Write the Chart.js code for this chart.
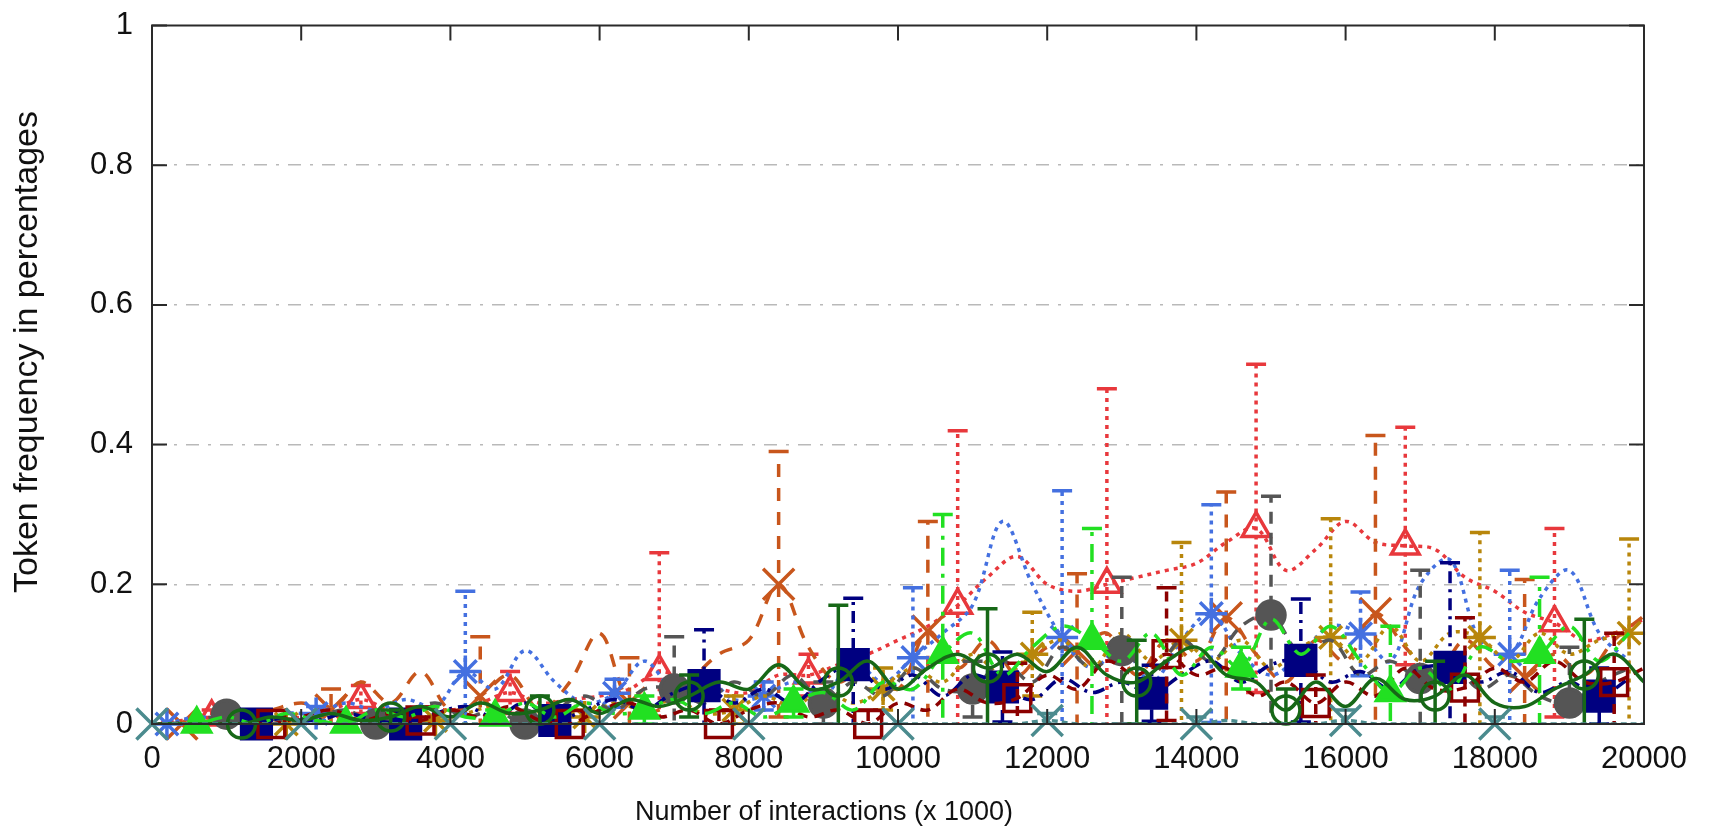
<!DOCTYPE html>
<html>
<head>
<meta charset="utf-8">
<script src="https://cdn.jsdelivr.net/npm/chart.js@4.4.1/dist/chart.umd.min.js"></script>
<style>
  html, body { margin: 0; padding: 0; background: #fff; }
  #caixa { width: 1710px; height: 840px; position: relative; }
</style>
</head>
<body>
<div id="caixa"><canvas id="graficoTokens"></canvas></div>
<script>
// eixo x: duas grades de amostragem (passo 400), uma começa em 0 e outra em 200
const gradeA = [0, 400, 800, 1200, 1600, 2000, 2400, 2800, 3200, 3600, 4000, 4400, 4800, 5200, 5600, 6000, 6400, 6800, 7200, 7600, 8000, 8400, 8800, 9200, 9600, 10000, 10400, 10800, 11200, 11600, 12000, 12400, 12800, 13200, 13600, 14000, 14400, 14800, 15200, 15600, 16000, 16400, 16800, 17200, 17600, 18000, 18400, 18800, 19200, 19600, 20000];
const gradeB = [200, 600, 1000, 1400, 1800, 2200, 2600, 3000, 3400, 3800, 4200, 4600, 5000, 5400, 5800, 6200, 6600, 7000, 7400, 7800, 8200, 8600, 9000, 9400, 9800, 10200, 10600, 11000, 11400, 11800, 12200, 12600, 13000, 13400, 13800, 14200, 14600, 15000, 15400, 15800, 16200, 16600, 17000, 17400, 17800, 18200, 18600, 19000, 19400, 19800];

const ticksX = [0, 2000, 4000, 6000, 8000, 10000, 12000, 14000, 16000, 18000, 20000];
const ticksY = [0, 0.2, 0.4, 0.6, 0.8, 1];

// frequências de cada token (gradeA ou gradeB)
const vermelho = [0, 0.005, 0.01, 0.01, 0.005, 0.01, 0.02, 0.035, 0.02, 0.025, 0.02, 0.03, 0.045, 0.03, 0.035, 0.04, 0.05, 0.075, 0.06, 0.05, 0.045, 0.07, 0.07, 0.085, 0.1, 0.12, 0.14, 0.17, 0.21, 0.24, 0.2, 0.19, 0.2, 0.21, 0.22, 0.23, 0.26, 0.28, 0.22, 0.25, 0.29, 0.26, 0.255, 0.25, 0.21, 0.19, 0.16, 0.145, 0.12, 0.13, 0.15];
const laranja = [0, 0, 0.005, 0.01, 0.02, 0.03, 0.02, 0.06, 0.03, 0.075, 0.02, 0.04, 0.07, 0.02, 0.06, 0.13, 0.03, 0.02, 0.06, 0.1, 0.12, 0.2, 0.11, 0.06, 0.09, 0.05, 0.133, 0.08, 0.12, 0.07, 0.11, 0.105, 0.13, 0.07, 0.12, 0.09, 0.152, 0.1, 0.06, 0.12, 0.09, 0.158, 0.11, 0.07, 0.12, 0.08, 0.067, 0.1, 0.07, 0.12, 0.155];
const azul = [0, 0.01, 0.005, 0, 0.015, 0.015, 0.03, 0.02, 0.035, 0.025, 0.075, 0.05, 0.105, 0.06, 0.03, 0.044, 0.09, 0.05, 0.07, 0.035, 0.04, 0.06, 0.04, 0.09, 0.06, 0.095, 0.13, 0.17, 0.29, 0.2, 0.124, 0.08, 0.11, 0.06, 0.12, 0.158, 0.1, 0.07, 0.1, 0.14, 0.129, 0.09, 0.2, 0.235, 0.12, 0.1, 0.18, 0.22, 0.13, 0.09];
const ouro = [0, 0, 0, 0, 0, 0.01, 0.005, 0.015, 0.005, 0.005, 0.015, 0.025, 0.01, 0.025, 0.01, 0.03, 0.02, 0.035, 0.015, 0.02, 0.04, 0.025, 0.05, 0.03, 0.05, 0.08, 0.06, 0.1, 0.07, 0.1, 0.12, 0.08, 0.13, 0.09, 0.12, 0.09, 0.12, 0.08, 0.11, 0.124, 0.09, 0.14, 0.09, 0.13, 0.124, 0.09, 0.13, 0.1, 0.12, 0.13];
const cinza = [0, 0.005, 0.014, 0.01, 0.005, 0.01, 0.02, 0, 0.015, 0.03, 0.01, 0.02, 0, 0.02, 0.04, 0.02, 0.05, 0.05, 0.03, 0.06, 0.04, 0.07, 0.03, 0.06, 0.04, 0.08, 0.05, 0.05, 0.09, 0.06, 0.11, 0.08, 0.105, 0.07, 0.12, 0.09, 0.14, 0.156, 0.1, 0.12, 0.07, 0.09, 0.065, 0.09, 0.05, 0.07, 0.04, 0.03, 0.06, 0.08];
const marinho = [0, 0, 0, 0, 0.01, 0.005, 0.015, 0.005, 0, 0.015, 0.025, 0.01, 0.03, 0.005, 0.02, 0.035, 0.02, 0.045, 0.055, 0.03, 0.05, 0.03, 0.065, 0.085, 0.05, 0.07, 0.04, 0.07, 0.053, 0.035, 0.065, 0.045, 0.06, 0.044, 0.07, 0.09, 0.06, 0.085, 0.091, 0.06, 0.075, 0.05, 0.08, 0.081, 0.06, 0.075, 0.045, 0.06, 0.04, 0.065];
const bordo = [0, 0, 0, 0, 0, 0.01, 0.02, 0.005, 0.015, 0.005, 0.02, 0.01, 0.025, 0.005, 0, 0.02, 0.03, 0.01, 0.02, 0, 0.02, 0.03, 0.01, 0.02, 0, 0.03, 0.02, 0.05, 0.03, 0.037, 0.07, 0.05, 0.09, 0.07, 0.1, 0.07, 0.08, 0.04, 0.06, 0.03, 0.06, 0.04, 0.08, 0.05, 0.052, 0.08, 0.06, 0.09, 0.06, 0.06, 0.08];
const verde = [0, 0, 0.01, 0, 0.015, 0.005, 0, 0.02, 0.01, 0.025, 0.01, 0.01, 0.03, 0.01, 0.03, 0.015, 0.02, 0.035, 0.015, 0.03, 0.01, 0.03, 0.045, 0.02, 0.06, 0.05, 0.1, 0.13, 0.07, 0.11, 0.14, 0.12, 0.09, 0.13, 0.07, 0.11, 0.08, 0.15, 0.1, 0.14, 0.09, 0.045, 0.08, 0.05, 0.11, 0.09, 0.1, 0.14, 0.09, 0.13];
const verdeEscuro = [0, 0, 0, 0, 0.01, 0.005, 0.015, 0.005, 0.01, 0.025, 0.01, 0.03, 0.015, 0.02, 0.035, 0.015, 0.035, 0.025, 0.04, 0.06, 0.05, 0.085, 0.05, 0.06, 0.09, 0.05, 0.08, 0.1, 0.08, 0.1, 0.075, 0.11, 0.07, 0.06, 0.09, 0.11, 0.07, 0.06, 0.02, 0.06, 0.025, 0.065, 0.035, 0.04, 0.07, 0.03, 0.025, 0.05, 0.07, 0.1, 0.06];
const petroleo = [0, 0, 0, 0, 0, 0, 0, 0, 0, 0, 0, 0, 0, 0, 0, 0, 0, 0, 0, 0, 0, 0, 0, 0, 0, 0, 0, 0, 0, 0, 0.005, 0, 0, 0, 0, 0, 0.005, 0, 0, 0, 0.005, 0, 0, 0, 0, 0, 0, 0, 0, 0, 0];

// posições dos símbolos (um a cada 2000) e meia-largura das barras de erro
const marcasVermelho = [800, 2800, 4800, 6800, 8800, 10800, 12800, 14800, 16800, 18800];
const errosVermelho = [0.01, 0.02, 0.03, 0.17, 0.03, 0.25, 0.28, 0.235, 0.17, 0.135];
const marcasLaranja = [400, 2400, 4400, 6400, 8400, 10400, 12400, 14400, 16400, 18400];
const errosLaranja = [0, 0.03, 0.085, 0.065, 0.19, 0.157, 0.11, 0.18, 0.255, 0.14];
const marcasAzul = [200, 2200, 4200, 6200, 8200, 10200, 12200, 14200, 16200, 18200];
const errosAzul = [0, 0.01, 0.115, 0.02, 0.02, 0.1, 0.21, 0.156, 0.06, 0.12];
const marcasOuro = [1800, 3800, 5800, 7800, 9800, 11800, 13800, 15800, 17800, 19800];
const errosOuro = [0, 0.005, 0.01, 0.02, 0.03, 0.06, 0.14, 0.17, 0.15, 0.135];
const marcasCinza = [1000, 3000, 5000, 7000, 9000, 11000, 13000, 15000, 17000, 19000];
const errosCinza = [0.01, 0, 0, 0.075, 0.03, 0.04, 0.105, 0.17, 0.155, 0.08];
const marcasMarinho = [1400, 3400, 5400, 7400, 9400, 11400, 13400, 15400, 17400, 19400];
const errosMarinho = [0, 0, 0.01, 0.08, 0.095, 0.05, 0.04, 0.088, 0.15, 0.04];
const marcasBordo = [1600, 3600, 5600, 7600, 9600, 11600, 13600, 15600, 17600, 19600];
const errosBordo = [0, 0.005, 0, 0.02, 0.02, 0.05, 0.095, 0.04, 0.1, 0.07];
const marcasVerde = [600, 2600, 4600, 6600, 8600, 10600, 12600, 14600, 16600, 18600];
const errosVerde = [0, 0, 0.01, 0.02, 0.02, 0.2, 0.16, 0.03, 0.095, 0.11];
const marcasVerdeEscuro = [1200, 3200, 5200, 7200, 9200, 11200, 13200, 15200, 17200, 19200];
const errosVerdeEscuro = [0, 0.01, 0.02, 0.03, 0.11, 0.085, 0.06, 0.03, 0.05, 0.08];
const marcasPetroleo = [0, 2000, 4000, 6000, 8000, 10000, 12000, 14000, 16000, 18000];
const errosPetroleo = [0, 0, 0, 0, 0, 0, 0.01, 0.01, 0.015, 0.01];

// estilo de cada curva, na ordem em que são desenhadas (primeira fica por baixo)
const series = [
  { valores: vermelho, xs: gradeA, marcas: marcasVermelho, erros: errosVermelho, cor: '#e8383c', traco: [4, 5], ponto: 'triangle', raio: 16, cheio: false },
  { valores: laranja, xs: gradeA, marcas: marcasLaranja, erros: errosLaranja, cor: '#c8561c', traco: [13, 11], ponto: 'crossRot', raio: 22, cheio: false },
  { valores: azul, xs: gradeB, marcas: marcasAzul, erros: errosAzul, cor: '#4470e0', traco: [4, 5], ponto: 'star', raio: 16, cheio: false },
  { valores: ouro, xs: gradeB, marcas: marcasOuro, erros: errosOuro, cor: '#b8860b', traco: [4, 5], ponto: 'star', raio: 16, cheio: false },
  { valores: cinza, xs: gradeB, marcas: marcasCinza, erros: errosCinza, cor: '#555555', traco: [12, 9], ponto: 'circle', raio: 14, cheio: true },
  { valores: marinho, xs: gradeB, marcas: marcasMarinho, erros: errosMarinho, cor: '#000080', traco: [12, 6, 3, 6], ponto: 'rect', raio: 21, cheio: true },
  { valores: bordo, xs: gradeA, marcas: marcasBordo, erros: errosBordo, cor: '#8b0000', traco: [10, 7], ponto: 'rect', raio: 19, cheio: false },
  { valores: verde, xs: gradeB, marcas: marcasVerde, erros: errosVerde, cor: '#22e022', traco: [18, 8, 4, 8], ponto: 'triangle', raio: 16, cheio: true },
  { valores: verdeEscuro, xs: gradeA, marcas: marcasVerdeEscuro, erros: errosVerdeEscuro, cor: '#176817', traco: [], ponto: 'circle', raio: 14, cheio: false },
  { valores: petroleo, xs: gradeA, marcas: marcasPetroleo, erros: errosPetroleo, cor: '#4b8b8e', traco: [6, 4], ponto: 'crossRot', raio: 22, cheio: false }
];

const fonte = "'Liberation Sans', Arial, sans-serif";
const espessura = 3.5;

const conjuntos = [];
series.forEach((s, k) => {
  const ordem = 1000 - k * 2;
  const valorEm = mx => s.valores[s.xs.indexOf(mx)];
  conjuntos.push({
    data: s.xs.map((xv, i) => ({ x: xv, y: s.valores[i] })),
    showLine: true,
    borderColor: s.cor,
    borderWidth: espessura,
    borderDash: s.traco,
    pointRadius: 0,
    tension: 0.35,
    order: ordem,
    erros: s.marcas.map((mx, j) => ({ x: mx, y: valorEm(mx), e: s.erros[j] }))
  });
  conjuntos.push({
    data: s.marcas.map(mx => ({ x: mx, y: valorEm(mx) })),
    showLine: false,
    pointStyle: s.ponto,
    pointRadius: s.raio,
    pointBorderWidth: espessura,
    pointBorderColor: s.cor,
    pointBackgroundColor: s.cheio ? s.cor : 'rgba(0,0,0,0)',
    clip: false,
    order: ordem - 1
  });
});

// barras de erro logo depois da linha de cada série
const pluginBarras = {
  id: 'pluginBarras',
  afterDatasetDraw(chart, args) {
    const ds = chart.data.datasets[args.index];
    if (!ds.erros) return;
    const { ctx, chartArea, scales: { x, y } } = chart;
    ctx.save();
    ctx.beginPath();
    ctx.rect(chartArea.left, chartArea.top, chartArea.right - chartArea.left, chartArea.bottom - chartArea.top);
    ctx.clip();
    ctx.strokeStyle = ds.borderColor;
    ctx.lineWidth = espessura;
    ds.erros.forEach(b => {
      if (!b.e) return;
      const xp = x.getPixelForValue(b.x);
      const topo = y.getPixelForValue(b.y + b.e);
      const baixo = y.getPixelForValue(b.y - b.e);
      ctx.setLineDash(ds.borderDash);
      ctx.beginPath();
      ctx.moveTo(xp, baixo);
      ctx.lineTo(xp, topo);
      ctx.stroke();
      ctx.setLineDash([]);
      ctx.beginPath();
      ctx.moveTo(xp - 10, topo);
      ctx.lineTo(xp + 10, topo);
      ctx.moveTo(xp - 10, baixo);
      ctx.lineTo(xp + 10, baixo);
      ctx.stroke();
    });
    ctx.restore();
  }
};

// moldura, marcas de escala voltadas para dentro e títulos dos eixos
const pluginMoldura = {
  id: 'pluginMoldura',
  afterDatasetsDraw(chart) {
    const { ctx, chartArea: { left, right, top, bottom }, scales: { x, y } } = chart;
    const tam = 15;
    ctx.save();
    ctx.strokeStyle = '#2a2a2a';
    ctx.lineWidth = 2;
    ctx.strokeRect(left, top, right - left, bottom - top);
    ctx.beginPath();
    ticksX.forEach(v => {
      const xp = x.getPixelForValue(v);
      ctx.moveTo(xp, bottom); ctx.lineTo(xp, bottom - tam);
      ctx.moveTo(xp, top); ctx.lineTo(xp, top + tam);
    });
    ticksY.forEach(v => {
      const yp = y.getPixelForValue(v);
      ctx.moveTo(left, yp); ctx.lineTo(left + tam, yp);
      ctx.moveTo(right, yp); ctx.lineTo(right - tam, yp);
    });
    ctx.stroke();

    ctx.fillStyle = '#111';
    ctx.textAlign = 'center';
    ctx.textBaseline = 'middle';
    ctx.font = `27px ${fonte}`;
    ctx.fillText('Number of interactions (x 1000)', 824, 813);
    ctx.translate(28, 352);
    ctx.rotate(-Math.PI / 2);
    ctx.font = `34px ${fonte}`;
    ctx.fillText('Token frequency in percentages', 0, 0);
    ctx.restore();
  }
};

new Chart(document.getElementById('graficoTokens').getContext('2d'), {
  type: 'scatter',
  data: { datasets: conjuntos },
  options: {
    responsive: true,
    maintainAspectRatio: false,
    devicePixelRatio: 1,
    animation: false,
    events: [],
    layout: { padding: { top: 20, right: 66, left: 0, bottom: 0 } },
    plugins: {
      legend: { display: false },
      tooltip: { enabled: false }
    },
    scales: {
      x: {
        type: 'linear',
        min: 0,
        max: 20000,
        afterFit: s => { s.height = 116; s.paddingLeft = 0; s.paddingRight = 0; },
        afterBuildTicks: s => { s.ticks = ticksX.map(v => ({ value: v })); },
        ticks: {
          callback: v => String(v),
          color: '#111',
          font: { family: fonte, size: 31 },
          padding: 9,
          maxRotation: 0
        },
        grid: { display: false },
        border: { display: false }
      },
      y: {
        min: 0,
        max: 1,
        afterFit: s => { s.width = 152; s.paddingTop = 0; s.paddingBottom = 0; },
        afterBuildTicks: s => { s.ticks = ticksY.map(v => ({ value: v })); },
        ticks: {
          callback: v => (v === 0 || v === 1) ? String(v) : v.toFixed(1),
          color: '#111',
          font: { family: fonte, size: 31 },
          padding: 19
        },
        grid: {
          drawTicks: false,
          lineWidth: 1.5,
          color: c => (c.tick && (c.tick.value === 0 || c.tick.value === 1)) ? 'rgba(0,0,0,0)' : '#b9b9b9'
        },
        border: { display: false, dash: [13, 9, 3, 9] }
      }
    }
  },
  plugins: [pluginBarras, pluginMoldura]
});
</script>
</body>
</html>
